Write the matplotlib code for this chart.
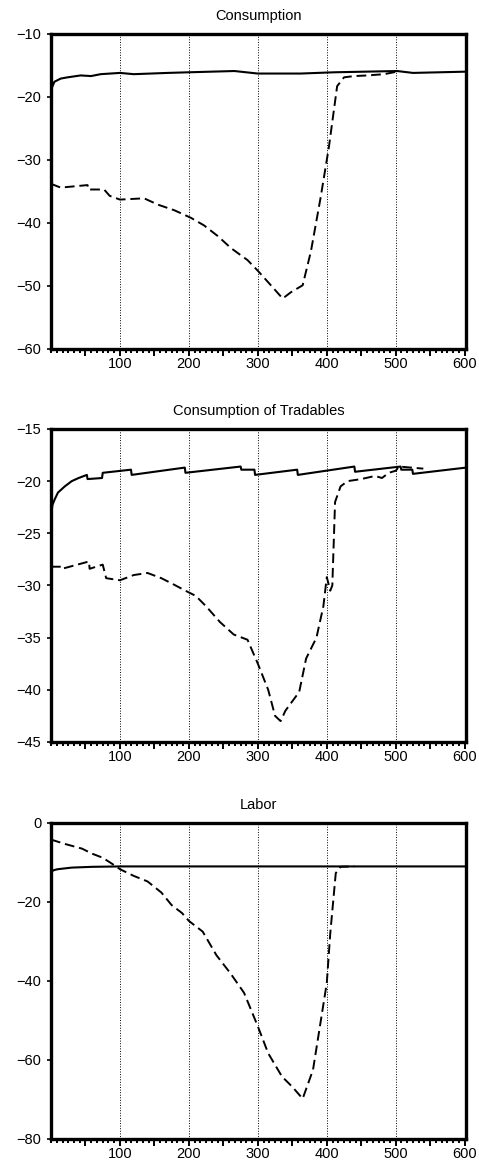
import matplotlib.pyplot as plt
from matplotlib.ticker import MultipleLocator

plt.rcParams['font.family'] = ['Liberation Sans', 'DejaVu Sans']
plt.rcParams['font.size'] = 10.5

# Consumption
cons_solid_x = [0, 1, 5, 14, 24, 43, 58, 72, 100, 120, 169, 200, 266, 300, 362, 411, 502, 525, 602]
cons_solid_y = [-19.2, -18.6, -17.6, -17.1, -16.9, -16.6, -16.7, -16.4, -16.2, -16.4, -16.2, -16.1, -15.9, -16.3, -16.3, -16.1, -15.9, -16.2, -16.0]
cons_dash_x = [0, 14, 53, 54, 77, 85, 100, 135, 155, 179, 203, 222, 242, 261, 285, 300, 314, 336, 348, 365,
               377, 391, 403, 415, 425, 440, 459, 483, 502]
cons_dash_y = [-33.8, -34.4, -34.0, -34.7, -34.7, -35.7, -36.3, -36.1, -37.1, -38.0, -39.2, -40.4, -42.1, -44.0,
               -45.9, -47.6, -49.3, -52.0, -51.0, -49.9, -44.5, -36.0, -28.0, -18.3, -16.9, -16.7, -16.6, -16.4, -16.0]

# Consumption of Tradables
trad_solid_x = [0, 2, 5, 10, 20, 30, 40, 52, 53, 74, 75, 116, 117, 194, 195, 275, 276, 295, 296, 357, 358,
                440, 441, 507, 508, 524, 525, 602]
trad_solid_y = [-23.4, -22.3, -21.8, -21.1, -20.5, -20.0, -19.7, -19.4, -19.8, -19.7, -19.2, -18.9, -19.4, -18.7,
                -19.2, -18.6, -18.9, -18.9, -19.4, -18.9, -19.4, -18.6, -19.1, -18.6, -18.9, -18.9, -19.3, -18.7]
trad_dash_x = [0, 15, 16, 55, 56, 75, 80, 100, 120, 140, 160, 175, 195, 210, 225, 245, 265, 285, 300, 315, 325,
               333, 340, 360, 370, 385, 395, 400, 405, 408, 412, 420, 430, 450, 470, 480, 490, 500, 505, 540]
trad_dash_y = [-28.2, -28.2, -28.4, -27.7, -28.4, -28.0, -29.3, -29.5, -29.0, -28.8, -29.3, -29.8, -30.5, -31.0,
               -32.0, -33.5, -34.7, -35.2, -37.5, -40.0, -42.5, -43.0, -42.0, -40.2, -37.0, -35.0, -32.0, -29.2,
               -30.5, -30.0, -22.0, -20.5, -20.0, -19.8, -19.5, -19.7, -19.2, -19.0, -18.6, -18.8]

# Labor
lab_solid_x = [0, 5, 10, 30, 60, 100, 200, 300, 400, 500, 602]
lab_solid_y = [-12.3, -11.9, -11.7, -11.3, -11.1, -11.0, -11.0, -11.0, -11.0, -11.0, -11.0]
lab_dash_x = [0, 20, 45, 60, 75, 90, 100, 120, 140, 160, 175, 190, 200, 220, 240, 260, 280, 300, 315, 335, 350,
              365, 380, 390, 400, 405, 413, 420, 440]
lab_dash_y = [-4.2, -5.3, -6.5, -7.8, -8.8, -10.5, -11.7, -13.4, -14.8, -17.6, -20.8, -22.8, -24.8, -27.5, -33.5,
              -38.0, -43.0, -51.5, -58.3, -64.2, -66.8, -69.8, -62.5, -51.5, -40.5, -28.0, -12.7, -11.1, -11.0]

titles = ['Consumption', 'Consumption of Tradables', 'Labor']
ylims = [(-60, -10), (-45, -15), (-80, 0)]
ysteps = [10, 5, 20]
series = [(cons_solid_x, cons_solid_y, cons_dash_x, cons_dash_y),
          (trad_solid_x, trad_solid_y, trad_dash_x, trad_dash_y),
          (lab_solid_x, lab_solid_y, lab_dash_x, lab_dash_y)]

fig = plt.figure(figsize=(4.79, 11.67), dpi=100)
# [left, bottom, width, height] in figure fractions
boxes = [[0.1065, 0.701, 0.8665, 0.270],
         [0.1065, 0.3642, 0.8665, 0.2682],
         [0.1065, 0.024, 0.8665, 0.2708]]

for box, title, ylim, ystep, (sx, sy, dx, dy) in zip(boxes, titles, ylims, ysteps, series):
    ax = fig.add_axes(box)
    for xv in range(100, 600, 100):
        ax.axvline(xv, color='black', linestyle=':', linewidth=0.7, zorder=1)
    ax.plot(sx, sy, color='black', linewidth=1.5, zorder=3)
    ax.plot(dx, dy, color='black', linewidth=1.4, linestyle=(0, (5, 2.5)), zorder=3)
    ax.set_xlim(0, 602)
    ax.set_ylim(*ylim)
    ax.set_title(title, fontsize=10.5, pad=10)
    # long ticks every 50, short ticks in between, labels every 100
    ax.xaxis.set_major_locator(MultipleLocator(50))
    ax.xaxis.set_minor_locator(MultipleLocator(50 / 6))
    ax.set_xticks(range(50, 601, 50))
    ax.set_xticklabels(['' if v % 100 else str(v) for v in range(50, 601, 50)])
    ax.yaxis.set_major_locator(MultipleLocator(ystep))
    ax.tick_params(axis='x', which='major', length=5, width=1.4, direction='out', pad=1)
    ax.tick_params(axis='x', which='minor', length=3.2, width=1.4, direction='out')
    ax.tick_params(axis='y', which='major', length=3, width=1.2, direction='out', pad=4)
    for spine in ax.spines.values():
        spine.set_linewidth(2.4)

plt.savefig('out.png', dpi=100)
